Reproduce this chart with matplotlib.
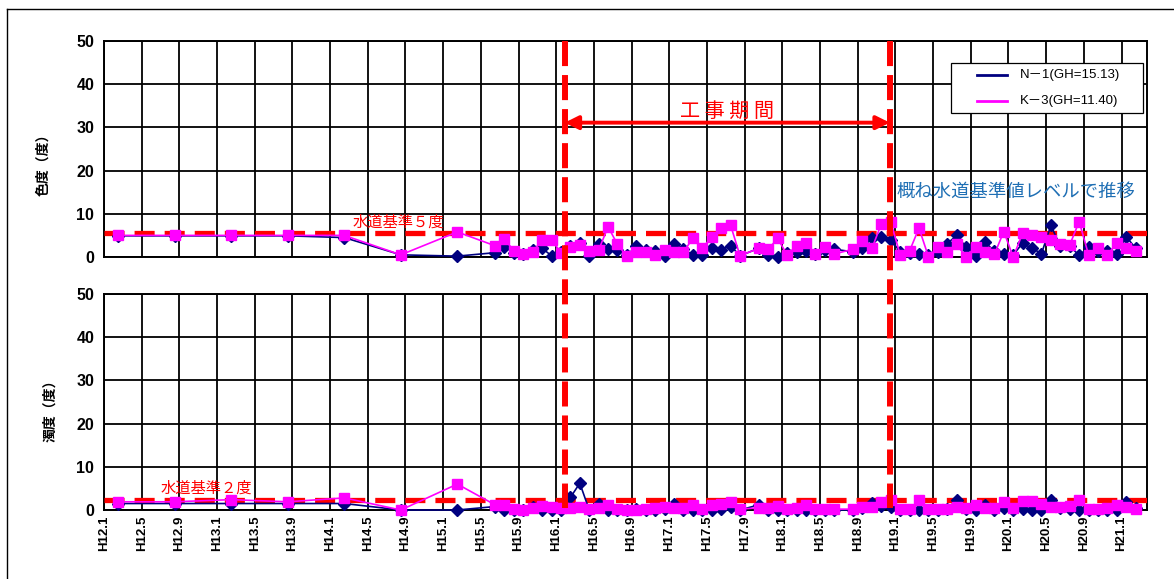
import matplotlib
matplotlib.use('Agg')
import matplotlib.pyplot as plt
import matplotlib.transforms as mtransforms
from matplotlib.lines import Line2D
from matplotlib.patches import Rectangle

plt.rcParams['font.family'] = ['Liberation Sans', 'Noto Sans CJK JP', 'DejaVu Sans']

# Sample dates (Heisei year.month). Early samples twice a year, then monthly.
early_dates = ['H12.2', 'H12.8', 'H13.2', 'H13.8', 'H14.2', 'H14.8', 'H15.2']
skipped = ['H17.9', 'H18.7']

# 色度 (colour)
n1_color_early = [4.9, 4.9, 4.9, 4.9, 4.5, 0.5, 0.2]
k3_color_early = [5.0, 5.0, 5.0, 5.0, 5.0, 0.5, 5.8]
n1_color = [1.0, 2.4, 1.0, 0.7, 1.6, 2.0, 0.3, 1.2, 2.5, 3.2, 0.2, 3.0, 1.8, 1.6,
            0.4, 2.5, 1.6, 1.5, 0.3, 3.0, 1.8, 0.5, 0.5, 2.1, 1.7, 2.6, 0.3,
            2.0, 0.5, 0.0, 0.9, 1.2, 1.4, 0.6, 1.6, 1.8,
            1.2, 2.0, 4.5, 4.7, 4.0, 1.2, 0.9, 0.6, 0.5, 1.1, 3.1, 5.0, 2.3, 0.3,
            3.5, 1.3, 0.8, 0.5, 3.2, 2.0, 0.8, 7.3, 2.5, 2.5, 0.4, 2.2, 1.4, 1.5,
            0.8, 4.7, 2.0]
k3_color = [2.6, 4.1, 1.5, 0.7, 1.2, 4.0, 4.0, 1.0, 2.4, 2.8, 1.5, 1.6, 7.0, 2.9,
            0.2, 1.2, 1.2, 0.5, 1.6, 1.2, 1.2, 4.3, 2.0, 4.7, 6.7, 7.4, 0.3,
            2.0, 1.8, 4.3, 0.5, 2.6, 3.2, 0.6, 2.2, 0.7,
            1.8, 3.6, 2.0, 7.6, 8.2, 0.5, 1.4, 6.7, 0.1, 2.2, 1.2, 2.9, 0.0, 2.4,
            1.2, 0.6, 5.9, 0.0, 5.5, 5.0, 4.7, 4.0, 2.9, 2.8, 8.2, 0.5, 2.0, 0.5,
            3.2, 2.0, 1.4]

# 濁度 (turbidity)
n1_turb_early = [1.5, 1.5, 1.5, 1.5, 1.5, 0.0, 0.0]
k3_turb_early = [1.9, 1.9, 2.4, 1.9, 2.8, 0.0, 6.0]
n1_turb = [0.8, 0.1, 0.0, 0.0, 0.6, 0.0, 0.0, 0.0, 2.9, 6.2, 0.0, 1.5, 0.0, 0.0,
           0.0, 0.2, 0.1, 0.0, 0.2, 1.5, 0.1, 0.0, 0.0, 0.0, 0.2, 0.8, 0.0,
           1.2, 0.0, 0.1, 0.0, 0.0, 0.0, 0.0, 0.0, 0.0,
           0.0, 0.4, 1.6, 1.0, 0.8, 0.0, 0.0, 0.0, 0.0, 0.0, 0.2, 2.4, 0.2, 0.0,
           1.2, 0.0, 0.4, 0.0, 0.2, 0.0, 0.0, 2.4, 0.4, 0.3, 0.0, 0.0, 0.0, 0.0,
           0.0, 1.8, 0.4]
k3_turb = [1.2, 1.2, 0.2, 0.1, 0.5, 1.0, 0.8, 0.5, 0.5, 0.7, 0.2, 0.4, 1.2, 0.2,
           0.1, 0.1, 0.2, 0.4, 0.7, 0.4, 0.5, 1.2, 0.2, 1.2, 1.4, 1.8, 0.2,
           0.5, 0.5, 1.0, 0.2, 0.5, 1.2, 0.2, 0.2, 0.2,
           0.2, 0.6, 0.7, 1.8, 2.2, 0.2, 0.2, 2.2, 0.2, 0.2, 0.2, 0.8, 0.4, 1.2,
           0.5, 0.5, 1.9, 0.5, 2.0, 2.0, 1.5, 0.8, 0.8, 1.0, 2.2, 0.2, 0.2, 0.5,
           1.2, 0.7, 0.2]

tick_labels = ['H12.1', 'H12.5', 'H12.9', 'H13.1', 'H13.5', 'H13.9', 'H14.1',
               'H14.5', 'H14.9', 'H15.1', 'H15.5', 'H15.9', 'H16.1', 'H16.5',
               'H16.9', 'H17.1', 'H17.5', 'H17.9', 'H18.1', 'H18.5', 'H18.9',
               'H19.1', 'H19.5', 'H19.9', 'H20.1', 'H20.5', 'H20.9', 'H21.1']
series_names = ['N－1(GH=15.13)', 'K－3(GH=11.40)']

color_std = 5.5   # 水道基準5度 line as drawn
turb_std = 2.3    # 水道基準2度 line as drawn
period_start = 48.9   # 工事期間 (months from H12.1)
period_end = 83.4


def to_month(label):
    y, m = label[1:].split('.')
    return (int(y) - 12) * 12 + int(m) - 1


monthly_dates = []
for k in range(41, 110):
    d = 'H%d.%d' % (12 + k // 12, k % 12 + 1)
    if d not in skipped:
        monthly_dates.append(d)

dates = early_dates + monthly_dates
x = [to_month(d) + 0.5 for d in dates]
ticks = [to_month(t) for t in tick_labels]

fig = plt.figure(figsize=(11.74, 5.79), dpi=100)
W, H = 1174, 579
ax1 = fig.add_axes([104 / W, 1 - 257 / H, 1043 / W, 216 / H])
ax2 = fig.add_axes([104 / W, 1 - 510 / H, 1043 / W, 216 / H])

navy = '#000080'
pink = '#FF00FF'
red = '#FF0000'

for ax, n1, k3, std in [(ax1, n1_color_early + n1_color, k3_color_early + k3_color, color_std),
                        (ax2, n1_turb_early + n1_turb, k3_turb_early + k3_turb, turb_std)]:
    ax.set_xlim(0, 110.7)
    ax.set_ylim(0, 50)
    ax.set_yticks(range(0, 51, 10))
    ax.set_xticks(ticks)
    ax.grid(True, color='black', linewidth=1.3)
    ax.set_axisbelow(True)
    for s in ax.spines.values():
        s.set_linewidth(1.4)
    ax.tick_params(length=0, pad=7)
    for lab in ax.get_yticklabels():
        lab.set_fontweight('bold')
        lab.set_fontsize(11.5)
    ax.axhline(std, color=red, linewidth=3.8, dashes=(3.8, 1.9), zorder=3)
    ax.plot(x, n1, color=navy, marker='D', markersize=6, linewidth=1.2,
            clip_on=False, zorder=4)
    ax.plot(x, k3, color=pink, marker='s', markersize=6.5, linewidth=1.2,
            clip_on=False, zorder=5)

ax1.set_xticklabels([])
ax2.set_xticklabels(tick_labels, rotation=90, fontsize=9.5, fontweight='bold')
ax2.tick_params(axis='x', pad=4)

# construction period lines across both panels
trans = mtransforms.blended_transform_factory(ax1.transData, fig.transFigure)
for xv in [period_start, period_end]:
    fig.add_artist(Line2D([xv, xv], [1 - 41 / H, 1 - 508 / H], transform=trans,
                          color=red, linewidth=4.3, dashes=(4.2, 1.5), zorder=6))

ax1.annotate('', xy=(period_end, 31.1), xytext=(period_start, 31.1),
             arrowprops=dict(arrowstyle='<|-|>', color=red, lw=2.8,
                             mutation_scale=20, shrinkA=0, shrinkB=0), zorder=7)
ax1.text((period_start + period_end) / 2, 33.8, '工 事 期 間', color=red,
         fontsize=14.5, ha='center', va='center', family='Noto Sans CJK JP')

ax1.text(31.2, 8.0, '水道基準５度', color=red, fontsize=11, ha='center',
         va='center', family='Noto Sans CJK JP')
ax2.text(10.9, 5.0, '水道基準２度', color=red, fontsize=11, ha='center',
         va='center', family='Noto Sans CJK JP')
ax1.text(84.1, 15.0, '概ね水道基準値レベルで推移', color='#1F6FB4', fontsize=13.2,
         ha='left', va='center', family='Noto Sans CJK JP')

fig.text(43 / W, 1 - 161 / H, '色度（度）', rotation=90, ha='center', va='center',
         fontsize=10, fontweight='bold')
fig.text(50 / W, 1 - 407 / H, '濁度（度）', rotation=90, ha='center', va='center',
         fontsize=10, fontweight='bold')

# legend box (Excel-style, drawn in axes fraction)
ax1.add_patch(Rectangle((0.812, 0.667), 0.184, 0.231, transform=ax1.transAxes,
                        facecolor='white', edgecolor='black', linewidth=0.9,
                        zorder=8))
for row_y, col, name in zip([0.843, 0.722], [navy, pink], series_names):
    ax1.add_line(Line2D([0.837, 0.866], [row_y, row_y], transform=ax1.transAxes,
                        color=col, linewidth=2, zorder=9))
    ax1.text(0.878, row_y, name, transform=ax1.transAxes, fontsize=9.5,
             ha='left', va='center', zorder=9)

# outer frame
fig.add_artist(Line2D([7 / W, 7 / W], [0, 1 - 9 / H], transform=fig.transFigure,
                      color='black', linewidth=1))
fig.add_artist(Line2D([7 / W, 1], [1 - 9 / H, 1 - 9 / H], transform=fig.transFigure,
                      color='black', linewidth=1))

fig.savefig('out.png', dpi=100)
